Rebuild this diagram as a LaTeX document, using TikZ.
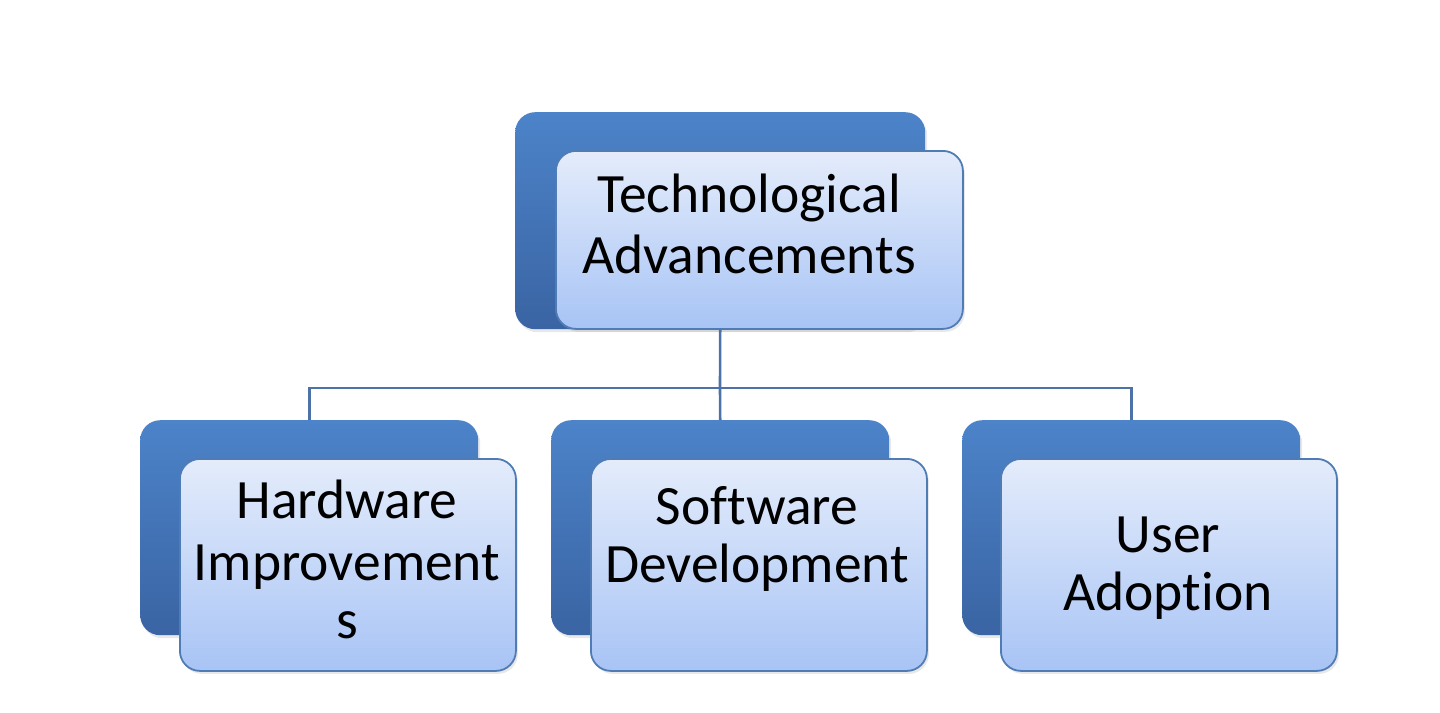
\documentclass[tikz,border=0pt]{standalone}
\usepackage{fontspec}
\setmainfont{Carlito}[Ligatures=NoCommon]
\usetikzlibrary{shadows}
\definecolor{backtop}{RGB}{76,131,201}
\definecolor{backbot}{RGB}{58,100,163}
\definecolor{fronttop}{RGB}{228,236,251}
\definecolor{frontbot}{RGB}{168,196,245}
\definecolor{frontedge}{RGB}{80,124,182}
\definecolor{connclr}{RGB}{76,114,168}
\tikzset{
  backbox/.style={rounded corners=20pt, top color=backtop, bottom color=backbot, draw=none,
    minimum width=338pt, minimum height=215pt, inner sep=0pt, anchor=north west,
    drop shadow={opacity=0.18, shadow xshift=2pt, shadow yshift=-3pt}},
  frontbox/.style={rounded corners=20pt, top color=fronttop, bottom color=frontbot,
    draw=frontedge, line width=1.8pt, minimum width=336pt, minimum height=212pt,
    inner sep=0pt, anchor=north west,
    drop shadow={opacity=0.18, shadow xshift=2pt, shadow yshift=-3pt}},
  lbl/.style={anchor=base, inner sep=0pt, font=\fontsize{55.5}{60}\selectfont},
  conn/.style={draw=connclr, line width=2.6pt}
}
\begin{document}
\begin{tikzpicture}[x=1pt,y=-1pt]
\useasboundingbox (0,0) rectangle (1440,712);
% top
\node[backbox, minimum width=410pt, minimum height=217pt] (topback) at (515,112) {};
\node[frontbox, minimum width=407pt, minimum height=178pt] (topfront) at (555,150) {};
\node[lbl] (t1) at (749,212) {Technological};
\node[lbl] (t2) at (749,273) {Advancements};
% bottom
\node[backbox] (hwback) at (140,420) {};
\node[frontbox] (hwfront) at (179,458) {};
\node[lbl] (h1) at (347,518) {Hardware};
\node[lbl] (h2) at (347,580) {Improvement};
\node[lbl] (h3) at (347,638) {s};
\node[backbox] (swback) at (551,420) {};
\node[frontbox] (swfront) at (590,458) {};
\node[lbl] (s1) at (757,524) {Software};
\node[lbl] (s2) at (757,582) {Development};
\node[backbox] (uaback) at (962,420) {};
\node[frontbox] (uafront) at (1000,458) {};
\node[lbl] (u1) at (1168,552) {User};
\node[lbl] (u2) at (1168,610) {Adoption};
% connectors
\coordinate (bus) at (720,388);
\draw[conn] (topback.south) -- (bus);
\draw[conn] (hwback.north) |- (bus) -| (uaback.north);
\draw[conn] (bus) -- (swback.north);
\end{tikzpicture}
\end{document}
